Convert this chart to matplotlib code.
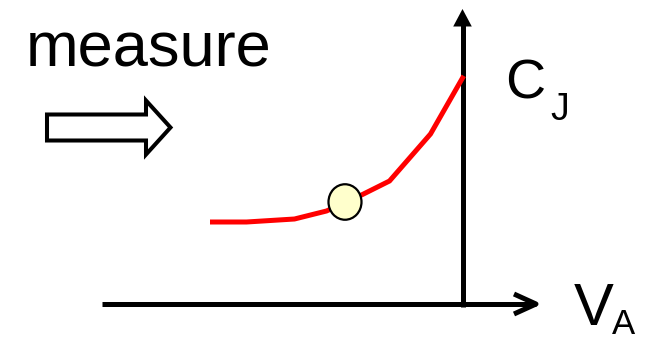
import numpy as np
import matplotlib
matplotlib.use('Agg')
import matplotlib.pyplot as plt
from matplotlib.patches import Ellipse, FancyArrow, Polygon

plt.rcParams['font.family'] = ['Liberation Sans', 'DejaVu Sans']

# C-V curve of the junction (arbitrary units, axes cross at 0,0)
v_a = [-2.50, -2.16, -1.68, -1.36, -1.01, -0.73, -0.32, 0.0]
c_j = [0.82, 0.82, 0.85, 0.93, 1.09, 1.23, 1.70, 2.26]

# operating point that is measured
v_op = -1.175
c_op = 1.02

fig = plt.figure(figsize=(6.46, 3.42), dpi=100)
ax = fig.add_axes([0, 0, 1, 1])
ax.set_xlim(-4.625, 1.835)
ax.set_ylim(-0.38, 3.04)
ax.axis('off')

# axes of the sketch
ax.plot([-3.605, 0.735], [0, 0], color='k', lw=3.6, solid_capstyle='butt')
ax.plot([0.515, 0.735, 0.515], [0.10, 0, -0.10], color='k', lw=3.6,
        solid_joinstyle='round', solid_capstyle='butt')
ax.plot([0, 0], [-0.025, 2.79], color='k', lw=3.6, solid_capstyle='butt')
ax.add_patch(Polygon([[-0.093, 2.775], [0.093, 2.775], [0, 2.95]],
                     closed=True, facecolor='k', edgecolor='none'))

# curve + point
ax.plot(v_a, c_j, color='#FF0000', lw=3.6, solid_joinstyle='miter', zorder=3)
ax.add_patch(Ellipse((v_op, c_op), 0.33, 0.355, facecolor='#FFFFCC',
                     edgecolor='k', lw=1.6, zorder=4))

# block arrow "measure =>"
ax.add_patch(FancyArrow(-4.155, 1.765, 1.235, 0, width=0.26, head_width=0.54,
                        head_length=0.245, length_includes_head=True,
                        facecolor='white', edgecolor='k', lw=2.9))

ax.text(-4.365, 2.373, 'measure', fontsize=45.5, ha='left', va='baseline')
ax.text(0.425, 2.055, 'C', fontsize=40, ha='left', va='baseline')
ax.text(0.882, 1.845, 'J', fontsize=27, ha='left', va='baseline')
ax.text(1.115, -0.21, 'V', fontsize=43, ha='left', va='baseline')
ax.text(1.492, -0.30, 'A', fontsize=25, ha='left', va='baseline')

plt.savefig('out.png', dpi=100)
